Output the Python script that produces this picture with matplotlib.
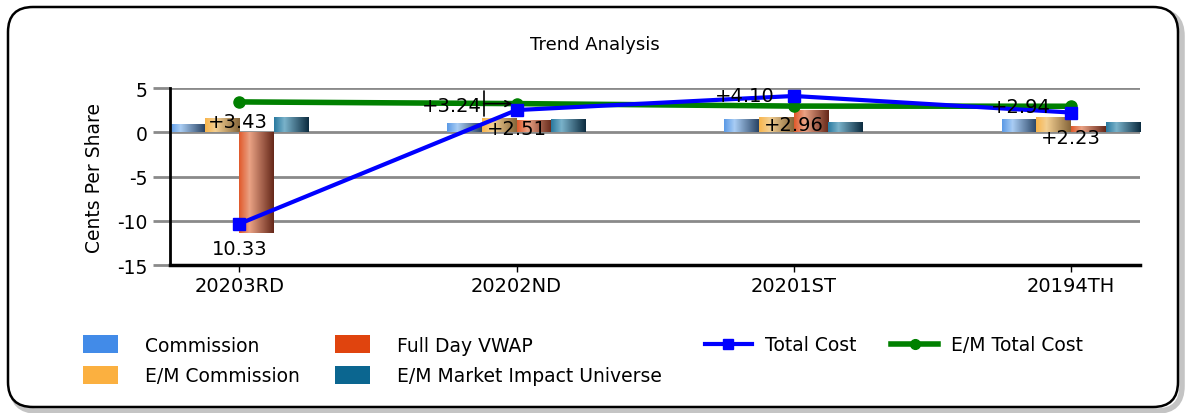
import matplotlib
matplotlib.use('Agg')
import matplotlib.pyplot as plt
import numpy as np
from matplotlib.colors import LinearSegmentedColormap
from matplotlib.patches import FancyBboxPatch, Patch
from matplotlib.lines import Line2D

plt.rcParams['font.family'] = ['DejaVu Sans']
plt.rcParams['axes.unicode_minus'] = False

# data
quarters = ['20203RD', '20202ND', '20201ST', '20194TH']
commission = [0.95, 1.05, 1.5, 1.45]
em_commission = [1.6, 1.6, 1.75, 1.7]
full_day_vwap = [-11.4, 1.36, 2.5, 0.68]
em_market_impact = [1.78, 1.52, 1.18, 1.18]
total_cost = [-10.33, 2.51, 4.10, 2.23]
em_total_cost = [3.43, 3.24, 2.96, 2.94]
total_labels = ['10.33', '+2.51', '+4.10', '+2.23']
em_total_labels = ['+3.43', '+3.24', '+2.96', '+2.94']

fig = plt.figure(figsize=(11.89, 4.14), dpi=100)

# rounded frame with a soft shadow
shadow = FancyBboxPatch((0.12, 0.02), 11.70, 4.00, boxstyle='round,pad=0,rounding_size=0.25',
                        transform=fig.dpi_scale_trans, fc='none', ec='#c4c4c4', lw=4, zorder=-2)
frame = FancyBboxPatch((0.08, 0.06), 11.70, 4.00, boxstyle='round,pad=0,rounding_size=0.25',
                       transform=fig.dpi_scale_trans, fc='white', ec='black', lw=1.8, zorder=-1)
fig.patches.extend([shadow, frame])

ax = fig.add_axes([0.143, 0.357, 0.816, 0.428])
ax.patch.set_alpha(0)

x = np.arange(len(quarters))
w = 0.125

series = [
    (commission, 'Commission', '#428be8', ['#5b9ae6', '#a9cdf4', '#2a4464']),
    (em_commission, 'E/M Commission', '#fbb040', ['#f9b54c', '#f3cf92', '#86663a']),
    (full_day_vwap, 'Full Day VWAP', '#e0440e', ['#e05a2c', '#eaa284', '#66281a']),
    (em_market_impact, 'E/M Market Impact Universe', '#0b6690', ['#2a7aa0', '#7ab2ca', '#0c2c40']),
]

grad = np.linspace(0, 1, 64).reshape(1, -1)
for i, (vals, name, col, stops) in enumerate(series):
    bars = ax.bar(x + (i - 1.5) * w, vals, w, color='none', edgecolor='none', zorder=2)
    cmap = LinearSegmentedColormap.from_list(name, list(zip([0, 0.3, 1], stops)))
    for b in bars:
        bx, by = b.get_xy()
        im = ax.imshow(grad, cmap=cmap, aspect='auto', zorder=2,
                       extent=(bx, bx + b.get_width(), by, by + b.get_height()))
        im.set_clip_path(b)

ax.plot(x, total_cost, color='#0000ff', lw=3, marker='s', ms=8, zorder=4)
ax.plot(x, em_total_cost, color='#008000', lw=4, marker='o', ms=8, zorder=3)

# value labels (offsets in pixels)
tc_off = [(0, -25), (0, -18), (-49, 0), (0, -25)]
em_off = [(-2, -20), (-65, -2), (0, -18), (-50, 0)]
for i in range(len(quarters)):
    ax.annotate(total_labels[i], (x[i], total_cost[i]), xytext=tc_off[i], textcoords='offset pixels',
                ha='center', va='center', fontsize=14, zorder=6)
    if i == 1:
        ax.annotate('', (x[i], em_total_cost[i]), xytext=(-33, 0), textcoords='offset pixels',
                    arrowprops=dict(arrowstyle=']->, widthA=0.9, lengthA=0', color='black',
                                    lw=1.2, shrinkA=0, shrinkB=3))
    ax.annotate(em_total_labels[i], (x[i], em_total_cost[i]), xytext=em_off[i], textcoords='offset pixels',
                ha='center', va='center', fontsize=14, zorder=6)

ax.set_xlim(-0.25, 3.25)
ax.set_ylim(-15, 5)
ax.set_yticks([-15, -10, -5, 0, 5])
ax.set_xticks(x)
ax.set_xticklabels(quarters, fontsize=14)
ax.tick_params(axis='y', length=12, width=2, color='#8a8a8a', labelsize=13.5, pad=4)
ax.tick_params(axis='x', length=5, width=1, pad=3)
ax.grid(axis='y', color='#8a8a8a', lw=2, zorder=1)
ax.set_axisbelow(True)
for s in ['top', 'right']:
    ax.spines[s].set_visible(False)
ax.spines['left'].set_linewidth(2)
ax.spines['bottom'].set_linewidth(2.5)
ax.set_ylabel('Cents Per Share', fontsize=13.5, labelpad=10)

fig.text(0.5, 1 - 45 / 414, 'Trend Analysis', ha='center', va='center', fontsize=13)

bar_handles = [Patch(facecolor=s[2], edgecolor='none') for s in series]
bar_names = [s[1] for s in series]
leg1 = fig.legend(bar_handles, bar_names, ncol=2, loc='upper left', bbox_to_anchor=(0.0555, 0.228),
                  frameon=False, fontsize=13.5, handlelength=1.87, handleheight=1.07,
                  handletextpad=1.44, columnspacing=1.9, labelspacing=0.6)
line_handles = [Line2D([], [], color='#0000ff', lw=3, marker='s', ms=7),
                Line2D([], [], color='#008000', lw=4, marker='o', ms=7)]
leg2 = fig.legend(line_handles, ['Total Cost', 'E/M Total Cost'], ncol=2, loc='upper left',
                  bbox_to_anchor=(0.5786, 0.228), frameon=False, fontsize=13.5, handlelength=2.5,
                  handletextpad=0.7, columnspacing=1.87)

fig.savefig('out.png', dpi=100)
